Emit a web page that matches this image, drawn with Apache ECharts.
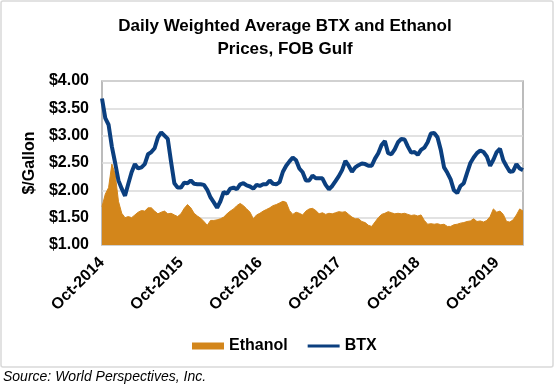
<!DOCTYPE html>
<html>
<head>
<meta charset="utf-8">
<script src="https://cdn.jsdelivr.net/npm/echarts@6/dist/echarts.min.js"></script>
<style>
html,body{margin:0;padding:0;background:#fff;}
#chart{width:557px;height:388px;}
</style>
</head>
<body>
<div id="chart"></div>
<script>
const dates = [
'2014-10-01','2014-10-16','2014-11-01','2014-11-16','2014-12-01','2014-12-16',
'2015-01-01','2015-01-16','2015-02-01','2015-02-16','2015-03-01','2015-03-16','2015-04-01','2015-04-16','2015-05-01','2015-05-16','2015-06-01','2015-06-16',
'2015-07-01','2015-07-16','2015-08-01','2015-08-16','2015-09-01','2015-09-16','2015-10-01','2015-10-16','2015-11-01','2015-11-16','2015-12-01','2015-12-16',
'2016-01-01','2016-01-16','2016-02-01','2016-02-16','2016-03-01','2016-03-16','2016-04-01','2016-04-16','2016-05-01','2016-05-16','2016-06-01','2016-06-16',
'2016-07-01','2016-07-16','2016-08-01','2016-08-16','2016-09-01','2016-09-16','2016-10-01','2016-10-16','2016-11-01','2016-11-16','2016-12-01','2016-12-16',
'2017-01-01','2017-01-16','2017-02-01','2017-02-16','2017-03-01','2017-03-16','2017-04-01','2017-04-16','2017-05-01','2017-05-16','2017-06-01','2017-06-16',
'2017-07-01','2017-07-16','2017-08-01','2017-08-16','2017-09-01','2017-09-16','2017-10-01','2017-10-16','2017-11-01','2017-11-16','2017-12-01','2017-12-16',
'2018-01-01','2018-01-16','2018-02-01','2018-02-16','2018-03-01','2018-03-16','2018-04-01','2018-04-16','2018-05-01','2018-05-16','2018-06-01','2018-06-16',
'2018-07-01','2018-07-16','2018-08-01','2018-08-16','2018-09-01','2018-09-16','2018-10-01','2018-10-16','2018-11-01','2018-11-16','2018-12-01','2018-12-16',
'2019-01-01','2019-01-16','2019-02-01','2019-02-16','2019-03-01','2019-03-16','2019-04-01','2019-04-16','2019-05-01','2019-05-16','2019-06-01','2019-06-16',
'2019-07-01','2019-07-16','2019-08-01','2019-08-16','2019-09-01','2019-09-16','2019-10-01','2019-10-16','2019-11-01','2019-11-16','2019-12-01','2019-12-16',
'2020-01-01','2020-01-16','2020-02-01'
];

const btx = [
3.68,3.32,3.20,2.80,2.50,2.18,2.03,1.90,2.12,2.33,
2.48,2.40,2.42,2.48,2.66,2.70,2.77,2.97,3.06,3.00,
2.94,2.52,2.13,2.05,2.05,2.14,2.13,2.18,2.12,2.11,
2.11,2.10,2.01,1.87,1.78,1.68,1.80,1.97,1.94,2.03,
2.05,2.02,2.11,2.13,2.09,2.07,2.03,2.10,2.08,2.11,
2.11,2.18,2.12,2.11,2.15,2.34,2.45,2.53,2.60,2.55,
2.40,2.33,2.18,2.18,2.27,2.22,2.22,2.22,2.10,2.02,
2.08,2.17,2.26,2.37,2.54,2.45,2.34,2.42,2.46,2.49,
2.48,2.45,2.45,2.58,2.68,2.83,2.90,2.68,2.66,2.75,
2.88,2.94,2.93,2.80,2.69,2.70,2.65,2.74,2.78,2.88,
3.04,3.05,2.97,2.74,2.42,2.32,2.20,2.00,1.95,2.08,
2.13,2.32,2.50,2.60,2.68,2.73,2.70,2.62,2.45,2.56,
2.70,2.76,2.55,2.44,2.34,2.35,2.48,2.40,2.37
];

const ethanol = [
1.70,1.93,2.05,2.48,2.30,1.80,1.58,1.50,1.52,1.50,
1.55,1.60,1.63,1.62,1.68,1.68,1.62,1.57,1.60,1.62,
1.57,1.58,1.55,1.52,1.57,1.67,1.74,1.68,1.58,1.53,
1.49,1.43,1.36,1.45,1.45,1.46,1.48,1.51,1.57,1.62,
1.66,1.72,1.76,1.72,1.66,1.60,1.48,1.55,1.58,1.62,
1.65,1.68,1.72,1.74,1.77,1.80,1.78,1.63,1.56,1.60,
1.58,1.55,1.62,1.66,1.67,1.63,1.57,1.59,1.56,1.58,
1.57,1.59,1.61,1.60,1.61,1.56,1.51,1.48,1.48,1.43,
1.41,1.36,1.34,1.42,1.50,1.56,1.58,1.61,1.59,1.57,
1.58,1.57,1.58,1.56,1.54,1.55,1.53,1.55,1.45,1.38,
1.39,1.38,1.39,1.37,1.38,1.34,1.34,1.37,1.38,1.40,
1.41,1.43,1.44,1.48,1.43,1.44,1.42,1.45,1.52,1.66,
1.60,1.62,1.56,1.43,1.42,1.46,1.55,1.66,1.62
];

const tickDates = ['2014-10-01','2015-10-01','2016-10-01','2017-10-01','2018-10-01','2019-10-01'];
const tickLabels = ['Oct-2014','Oct-2015','Oct-2016','Oct-2017','Oct-2018','Oct-2019'];

const ORANGE = '#D3861B';
const NAVY = '#0B3F7F';
const FONT = 'Liberation Sans, Arial, sans-serif';

const chart = echarts.init(document.getElementById('chart'), null, {renderer: 'canvas'});
chart.setOption({
  animation: false,
  backgroundColor: '#fff',
  textStyle: {fontFamily: FONT},
  title: {
    text: 'Daily Weighted Average BTX and Ethanol\nPrices, FOB Gulf',
    left: 280, top: 10, textAlign: 'center',
    textStyle: {fontFamily: FONT, fontSize: 17, fontWeight: 'bold', color: '#000', lineHeight: 23}
  },
  graphic: [{
    type: 'rect', silent: true,
    shape: {x: 1, y: 1, width: 552, height: 366, r: 2},
    style: {fill: 'none', stroke: '#d9d9d9', lineWidth: 1.5}
  }, {
    type: 'text', left: 3, top: 370,
    style: {text: 'Source: World Perspectives, Inc.', font: 'italic 14px ' + FONT, fill: '#000'}
  }],
  legend: {
    left: 187, top: 333,
    itemWidth: 32, itemHeight: 7, itemGap: 20,
    textStyle: {fontFamily: FONT, fontSize: 16, fontWeight: 'bold', color: '#000'},
    data: [
      {name: 'Ethanol', icon: 'rect', itemStyle: {color: ORANGE}},
      {name: 'BTX', icon: 'path://M0,0h.01v.01h-.01z M0,2h32v3h-32z M0,7h.01v.01h-.01z', itemStyle: {color: NAVY}}
    ]
  },
  grid: {
    left: 102, right: 34, top: 81, bottom: 143,
    show: true, borderColor: '#a6a6a6', borderWidth: 1.5, backgroundColor: '#fff'
  },
  xAxis: {
    type: 'category', data: dates, boundaryGap: false,
    axisLine: {show: false}, axisTick: {show: false},
    splitLine: {show: false},
    axisLabel: {
      rotate: 45, margin: 15,
      interval: function (idx, val) { return tickDates.indexOf(val) >= 0; },
      formatter: function (val) { const k = tickDates.indexOf(val); return k >= 0 ? tickLabels[k] : ''; },
      fontFamily: FONT, fontSize: 16, fontWeight: 'bold', color: '#000'
    }
  },
  yAxis: {
    type: 'value', min: 1, max: 4, interval: 0.5,
    name: '$/Gallon', nameLocation: 'middle', nameGap: 60, nameRotate: 90,
    nameTextStyle: {fontFamily: FONT, fontSize: 16, fontWeight: 'bold', color: '#000'},
    axisLine: {show: false}, axisTick: {show: false},
    splitLine: {lineStyle: {color: '#d9d9d9', width: 1.5}},
    axisLabel: {
      margin: 13,
      formatter: function (v) { return '$' + v.toFixed(2); },
      fontFamily: FONT, fontSize: 16, fontWeight: 'bold', color: '#000'
    }
  },
  series: [
    {
      name: 'Ethanol', type: 'line', data: ethanol, symbol: 'none',
      lineStyle: {color: ORANGE, width: 1},
      itemStyle: {color: ORANGE},
      areaStyle: {color: ORANGE, opacity: 1, origin: 'start'},
      z: 2
    },
    {
      name: 'BTX', type: 'line', data: btx, symbol: 'none',
      lineStyle: {color: NAVY, width: 4},
      itemStyle: {color: NAVY},
      z: 3
    }
  ]
});
</script>
</body>
</html>
